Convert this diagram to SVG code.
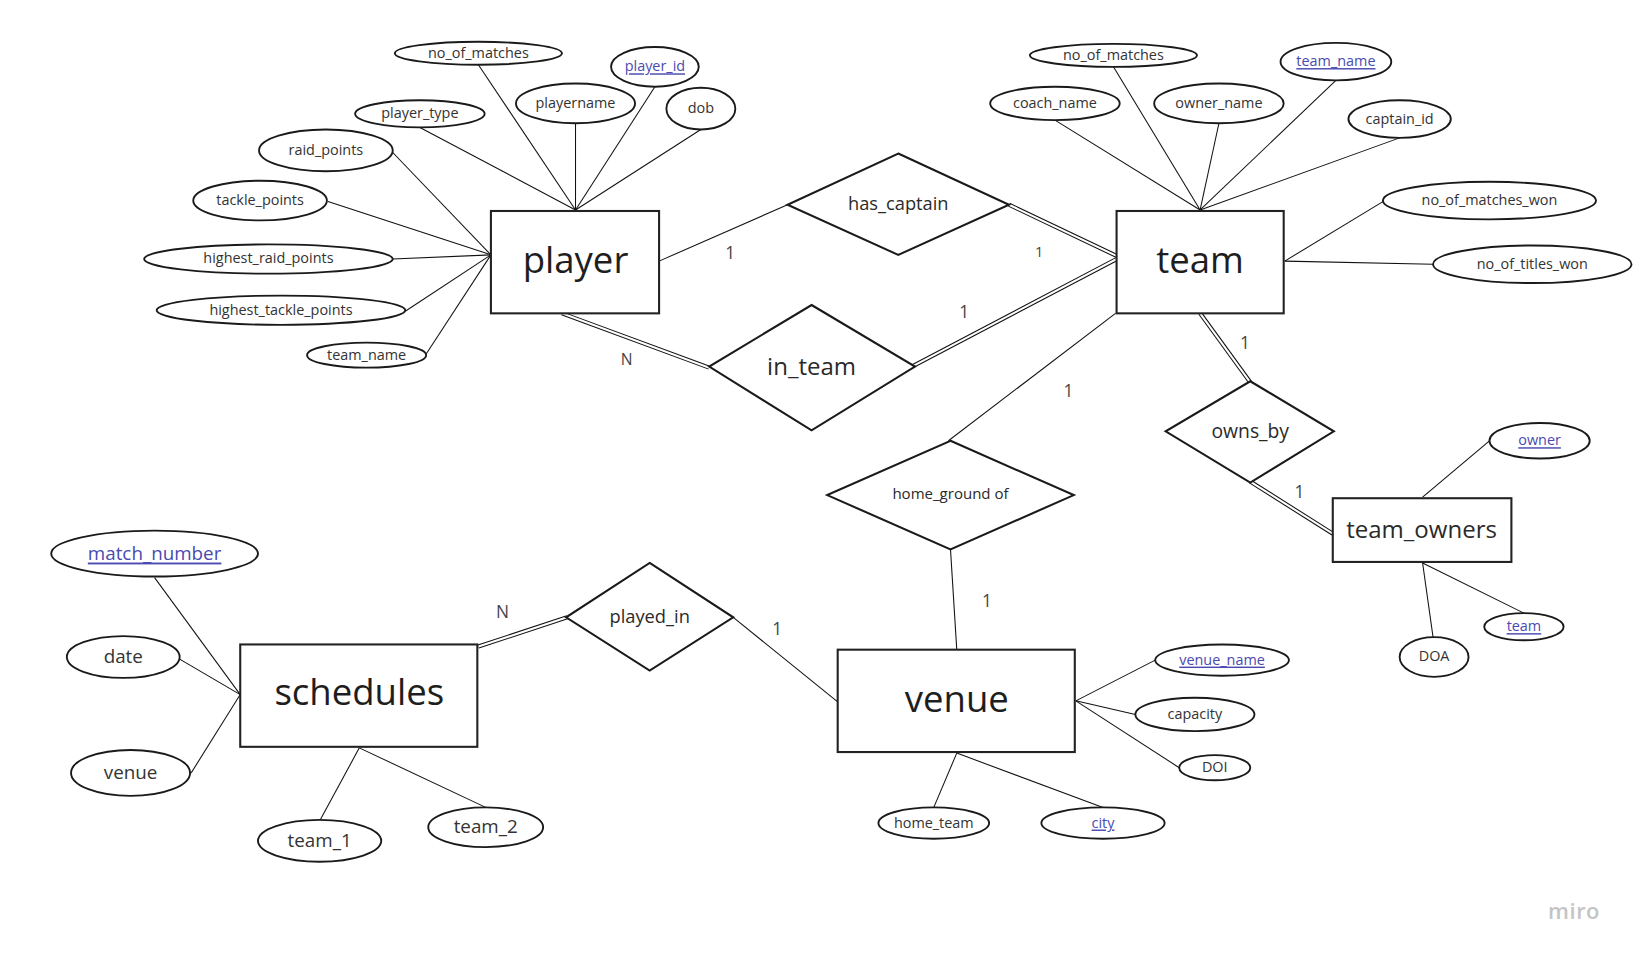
<svg xmlns="http://www.w3.org/2000/svg" width="1635" height="955" viewBox="0 0 1635 955">
<style>
  .ent { fill: #ffffff; stroke: #222222; stroke-width: 2; }
  .rel { fill: #ffffff; stroke: #1a1a1a; stroke-width: 2; stroke-linejoin: miter; }
  .att { fill: #ffffff; stroke: #1a1a1a; stroke-width: 1.8; }
  .ln { stroke: #111111; stroke-width: 1; fill: none; }
  .dbl-o { stroke: #111111; stroke-width: 4; fill: none; }
  .dbl-i { stroke: #ffffff; stroke-width: 2; fill: none; }
  text { font-family: "Open Sans", "Liberation Sans", sans-serif; fill: #2a2a2a; text-anchor: middle; dominant-baseline: central; }
  .big { font-size: 35px; fill: #1e1e1e; }
  .mid { font-size: 23px; }
  .att-t { font-size: 13.8px; fill: #333333; }
  .att-l { font-size: 18px; fill: #333333; }
  .key { fill: #4a4ab0; text-decoration: underline; }
  .card { font-size: 16.5px; fill: #444444; }
</style>
<rect x="0" y="0" width="1635" height="955" fill="#ffffff"/>
<g transform="scale(1.0445)">
  <g id="connectors">
    <!-- player attributes -->
    <line class="ln" x1="458" y1="62" x2="551" y2="201"/>
    <line class="ln" x1="402" y1="122" x2="551" y2="201"/>
    <line class="ln" x1="551" y1="118" x2="551" y2="201"/>
    <line class="ln" x1="627" y1="83" x2="551" y2="201"/>
    <line class="ln" x1="671" y1="124" x2="551" y2="201"/>
    <line class="ln" x1="376" y1="146" x2="470" y2="244"/>
    <line class="ln" x1="314" y1="193" x2="470" y2="244"/>
    <line class="ln" x1="376" y1="248" x2="470" y2="244"/>
    <line class="ln" x1="388" y1="298" x2="470" y2="244"/>
    <line class="ln" x1="408" y1="339" x2="470" y2="244"/>
    <!-- team attributes -->
    <line class="ln" x1="1010" y1="115" x2="1149" y2="201"/>
    <line class="ln" x1="1066" y1="64" x2="1149" y2="201"/>
    <line class="ln" x1="1167" y1="118" x2="1149" y2="201"/>
    <line class="ln" x1="1279" y1="77" x2="1149" y2="201"/>
    <line class="ln" x1="1340" y1="132" x2="1149" y2="201"/>
    <line class="ln" x1="1230" y1="250" x2="1324" y2="193"/>
    <line class="ln" x1="1230" y1="250" x2="1372" y2="253"/>
    <!-- has_captain -->
    <line class="ln" x1="631" y1="250" x2="754" y2="196"/>
    <line class="dbl-o" x1="966" y1="196" x2="1069" y2="245"/>
    <line class="dbl-i" x1="966" y1="196" x2="1069" y2="245"/>
    <!-- in_team -->
    <line class="dbl-o" x1="538" y1="300" x2="679" y2="352"/>
    <line class="dbl-i" x1="538" y1="300" x2="679" y2="352"/>
    <line class="dbl-o" x1="873" y1="351" x2="1069" y2="248"/>
    <line class="dbl-i" x1="873" y1="351" x2="1069" y2="248"/>
    <!-- home_ground of -->
    <line class="ln" x1="1068" y1="300" x2="908" y2="422"/>
    <line class="ln" x1="910" y1="526" x2="916" y2="622"/>
    <!-- owns_by -->
    <line class="dbl-o" x1="1149" y1="300" x2="1197" y2="366"/>
    <line class="dbl-i" x1="1149" y1="300" x2="1197" y2="366"/>
    <line class="dbl-o" x1="1197" y1="461" x2="1276" y2="511"/>
    <line class="dbl-i" x1="1197" y1="461" x2="1276" y2="511"/>
    <!-- team_owners attributes -->
    <line class="ln" x1="1362" y1="476" x2="1426" y2="422"/>
    <line class="ln" x1="1362" y1="539" x2="1372" y2="610"/>
    <line class="ln" x1="1362" y1="539" x2="1459" y2="587"/>
    <!-- played_in -->
    <line class="dbl-o" x1="458" y1="619" x2="543" y2="591"/>
    <line class="dbl-i" x1="458" y1="619" x2="543" y2="591"/>
    <line class="ln" x1="702" y1="591" x2="802" y2="672"/>
    <!-- schedules attributes -->
    <line class="ln" x1="148" y1="553" x2="230" y2="665"/>
    <line class="ln" x1="172" y1="631" x2="230" y2="665"/>
    <line class="ln" x1="183" y1="740" x2="230" y2="665"/>
    <line class="ln" x1="306" y1="786" x2="344" y2="716"/>
    <line class="ln" x1="465" y1="773" x2="344" y2="716"/>
    <!-- venue attributes -->
    <line class="ln" x1="1030" y1="671" x2="1106" y2="632"/>
    <line class="ln" x1="1030" y1="671" x2="1087" y2="684"/>
    <line class="ln" x1="1030" y1="671" x2="1129" y2="735"/>
    <line class="ln" x1="916" y1="721" x2="894" y2="773"/>
    <line class="ln" x1="916" y1="721" x2="1056" y2="773"/>
  </g>

  <g id="cardinalities">
    <text class="card" x="699" y="242">1</text>
    <text class="card" x="995" y="240" style="font-size:14px">1</text>
    <text class="card" x="600" y="344" style="font-size:15px">N</text>
    <text class="card" x="923" y="298">1</text>
    <text class="card" x="1023" y="374">1</text>
    <text class="card" x="945" y="575">1</text>
    <text class="card" x="1192" y="328">1</text>
    <text class="card" x="1244" y="471">1</text>
    <text class="card" x="481" y="585">N</text>
    <text class="card" x="744" y="602">1</text>
  </g>

  <!-- entities -->
  <g id="player">
    <rect class="ent" x="470" y="202" width="161" height="98"/>
    <text class="big" x="551" y="248">player</text>
  </g>
  <g id="team">
    <rect class="ent" x="1069" y="202" width="160" height="98"/>
    <text class="big" x="1149" y="248">team</text>
  </g>
  <g id="team_owners">
    <rect class="ent" x="1276" y="477" width="171" height="61"/>
    <text class="mid" x="1361" y="506">team_owners</text>
  </g>
  <g id="schedules">
    <rect class="ent" x="230" y="617" width="227" height="98"/>
    <text class="big" x="344" y="662">schedules</text>
  </g>
  <g id="venue">
    <rect class="ent" x="802" y="622" width="227" height="98"/>
    <text class="big" x="916" y="668">venue</text>
  </g>

  <!-- relationships -->
  <g id="has_captain">
    <polygon class="rel" points="860,147 966,196 860,244 754,196"/>
    <text x="860" y="194" style="font-size:17.5px">has_captain</text>
  </g>
  <g id="in_team">
    <polygon class="rel" points="777,292 876,351 777,412 679,351"/>
    <text class="mid" x="777" y="350">in_team</text>
  </g>
  <g id="home_ground_of">
    <polygon class="rel" points="910,422 1028,474 910,526 792,474"/>
    <text x="910" y="472" style="font-size:14.4px">home_ground of</text>
  </g>
  <g id="owns_by">
    <polygon class="rel" points="1197,365 1277,413 1197,462 1116,413"/>
    <text x="1197" y="412" style="font-size:18.5px">owns_by</text>
  </g>
  <g id="played_in">
    <polygon class="rel" points="622,539 702,591 622,642 542,591"/>
    <text x="622" y="589" style="font-size:17.5px">played_in</text>
  </g>

  <!-- player attributes -->
  <g id="attr_player_no_of_matches"><ellipse class="att" cx="458" cy="51" rx="80" ry="11"/><text class="att-t" x="458" y="50">no_of_matches</text></g>
  <g id="attr_player_id"><ellipse class="att" cx="627" cy="64" rx="42" ry="19"/><text class="att-t key" x="627" y="63">player_id</text></g>
  <g id="attr_playername"><ellipse class="att" cx="551" cy="99" rx="57" ry="19"/><text class="att-t" x="551" y="98">playername</text></g>
  <g id="attr_dob"><ellipse class="att" cx="671" cy="104" rx="33" ry="20"/><text class="att-t" x="671" y="103">dob</text></g>
  <g id="attr_player_type"><ellipse class="att" cx="402" cy="109" rx="62" ry="13"/><text class="att-t" x="402" y="108">player_type</text></g>
  <g id="attr_raid_points"><ellipse class="att" cx="312" cy="144" rx="64" ry="20"/><text class="att-t" x="312" y="143">raid_points</text></g>
  <g id="attr_tackle_points"><ellipse class="att" cx="249" cy="192" rx="64" ry="19"/><text class="att-t" x="249" y="191">tackle_points</text></g>
  <g id="attr_highest_raid_points"><ellipse class="att" cx="257" cy="248" rx="119" ry="14"/><text class="att-t" x="257" y="247">highest_raid_points</text></g>
  <g id="attr_highest_tackle_points"><ellipse class="att" cx="269" cy="297" rx="119" ry="14"/><text class="att-t" x="269" y="296">highest_tackle_points</text></g>
  <g id="attr_player_team_name"><ellipse class="att" cx="351" cy="340" rx="57" ry="12"/><text class="att-t" x="351" y="339">team_name</text></g>

  <!-- team attributes -->
  <g id="attr_team_no_of_matches"><ellipse class="att" cx="1066" cy="53" rx="80" ry="11"/><text class="att-t" x="1066" y="52">no_of_matches</text></g>
  <g id="attr_team_name"><ellipse class="att" cx="1279" cy="59" rx="53" ry="18"/><text class="att-t key" x="1279" y="58">team_name</text></g>
  <g id="attr_coach_name"><ellipse class="att" cx="1010" cy="99" rx="62" ry="16"/><text class="att-t" x="1010" y="98">coach_name</text></g>
  <g id="attr_owner_name"><ellipse class="att" cx="1167" cy="99" rx="62" ry="19"/><text class="att-t" x="1167" y="98">owner_name</text></g>
  <g id="attr_captain_id"><ellipse class="att" cx="1340" cy="114" rx="49" ry="18"/><text class="att-t" x="1340" y="113">captain_id</text></g>
  <g id="attr_no_of_matches_won"><ellipse class="att" cx="1426" cy="192" rx="102" ry="18"/><text class="att-t" x="1426" y="191">no_of_matches_won</text></g>
  <g id="attr_no_of_titles_won"><ellipse class="att" cx="1467" cy="253" rx="95" ry="18"/><text class="att-t" x="1467" y="252">no_of_titles_won</text></g>

  <!-- team_owners attributes -->
  <g id="attr_owner"><ellipse class="att" cx="1474" cy="422" rx="48" ry="17"/><text class="att-t key" x="1474" y="421">owner</text></g>
  <g id="attr_owners_team"><ellipse class="att" cx="1459" cy="600" rx="38" ry="13"/><text class="att-t key" x="1459" y="599">team</text></g>
  <g id="attr_doa"><ellipse class="att" cx="1373" cy="629" rx="33" ry="19"/><text class="att-t" x="1373" y="628">DOA</text></g>

  <!-- schedules attributes -->
  <g id="attr_match_number"><ellipse class="att" cx="148" cy="530" rx="99" ry="22"/><text class="att-l key" x="148" y="529">match_number</text></g>
  <g id="attr_date"><ellipse class="att" cx="118" cy="629" rx="54" ry="20"/><text class="att-l" x="118" y="628">date</text></g>
  <g id="attr_sched_venue"><ellipse class="att" cx="125" cy="740" rx="57" ry="22"/><text class="att-l" x="125" y="739">venue</text></g>
  <g id="attr_team_1"><ellipse class="att" cx="306" cy="805" rx="59" ry="20"/><text class="att-l" x="306" y="804">team_1</text></g>
  <g id="attr_team_2"><ellipse class="att" cx="465" cy="792" rx="55" ry="19"/><text class="att-l" x="465" y="791">team_2</text></g>

  <!-- venue attributes -->
  <g id="attr_venue_name"><ellipse class="att" cx="1170" cy="632" rx="64" ry="15"/><text class="att-t key" x="1170" y="631">venue_name</text></g>
  <g id="attr_capacity"><ellipse class="att" cx="1144" cy="684" rx="57" ry="16"/><text class="att-t" x="1144" y="683">capacity</text></g>
  <g id="attr_doi"><ellipse class="att" cx="1163" cy="735" rx="34" ry="12"/><text class="att-t" x="1163" y="734">DOI</text></g>
  <g id="attr_home_team"><ellipse class="att" cx="894" cy="788" rx="53" ry="15"/><text class="att-t" x="894" y="787">home_team</text></g>
  <g id="attr_city"><ellipse class="att" cx="1056" cy="788" rx="59" ry="15"/><text class="att-t key" x="1056" y="787">city</text></g>

  <text x="1507" y="872" style="font-size:21px; fill:#c4c4c4; font-weight:600; letter-spacing:0.5px">miro</text>
</g>
</svg>
